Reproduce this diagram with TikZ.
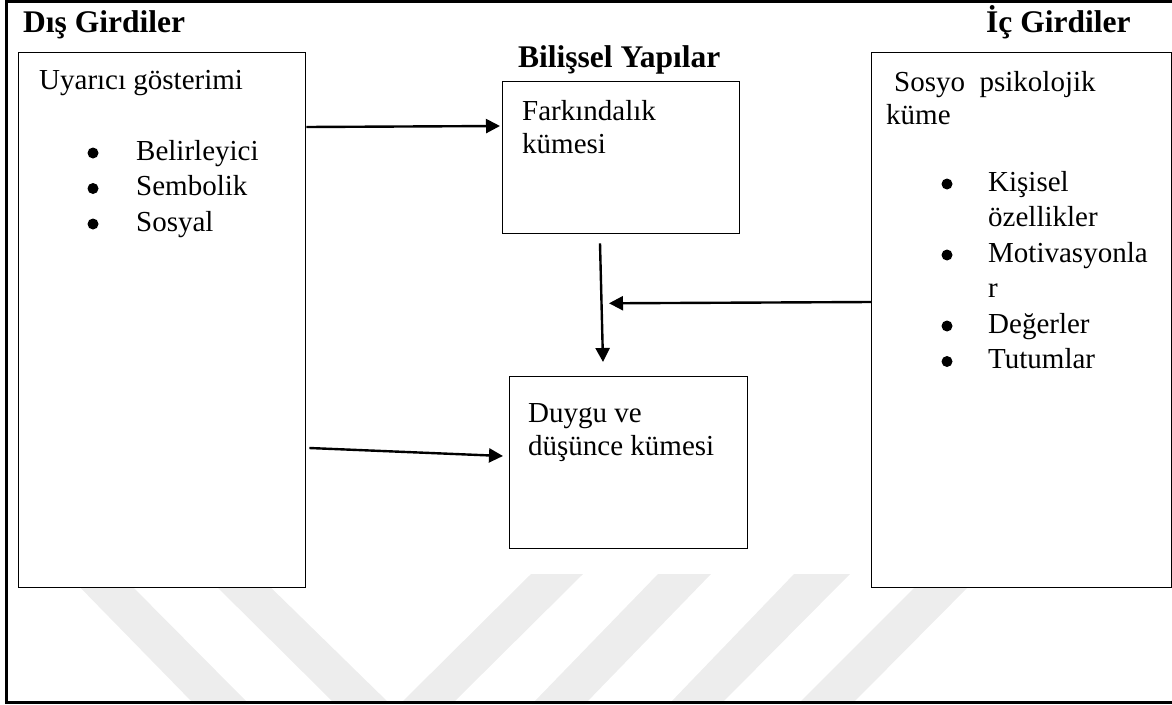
\documentclass[tikz,border=0pt]{standalone}
\usepackage{fontspec}
\setmainfont{Liberation Serif}
\usetikzlibrary{arrows.meta,calc}
\definecolor{wmgray}{RGB}{237,237,237}
\tikzset{
  box/.style={draw=black, line width=1.3pt, fill=white, rectangle, inner sep=0pt, anchor=north west},
  txt/.style={anchor=base west, inner sep=0pt, font=\fontsize{29}{35}\selectfont},
  head/.style={anchor=base west, inner sep=0pt, font=\fontsize{31.5}{36}\selectfont\bfseries},
  bul/.style={circle, fill=black, inner sep=0pt, minimum size=11pt},
  arr/.style={line width=2.4pt, -{Triangle[length=14pt,width=14pt]}},
  band/.style={fill=wmgray, draw=none},
  frame/.style={draw=black, line width=3pt},
}
\begin{document}
\begin{tikzpicture}[x=1pt,y=-1pt]
\useasboundingbox (0,0) rectangle (1172,704);

% faint background bands
\fill[band] (67,574) -- (120,574) -- (249,704) -- (194,704) -- cycle;
\fill[band] (204,574) -- (257,574) -- (390,704) -- (335,704) -- cycle;
\fill[band] (531,574) -- (583,574) -- (452,704) -- (400,704) -- cycle;
\fill[band] (658,574) -- (711,574) -- (585,704) -- (532,704) -- cycle;
\fill[band] (794,574) -- (850,574) -- (721,704) -- (669,704) -- cycle;
\fill[band] (928,574) -- (981,574) -- (852,704) -- (798,704) -- cycle;

% outer frame
\draw[frame] (6.5,1.5) rectangle (1190,702.5);

% headings
\node[head] (hdis) at (23,32) {Dış Girdiler};
\node[head] (hic) at (986,32) {İç Girdiler};
\node[head] (hbil) at (518,67) {Bilişsel Yapılar};

% boxes
\node[box, minimum width=287pt, minimum height=535pt] (dis) at (18,52) {};
\node[box, minimum width=300pt, minimum height=535pt] (ic) at (871,52) {};
\node[box, minimum width=237pt, minimum height=152pt] (fark) at (502,81) {};
\node[box, minimum width=238pt, minimum height=172pt] (duygu) at (509,376) {};

% left box contents
\node[txt] (t1) at (39,89) {Uyarıcı gösterimi};
\node[bul] (b1) at (93,153) {};
\node[txt] (t2) at (136,160) {Belirleyici};
\node[bul] (b2) at (93,188.5) {};
\node[txt] (t3) at (136,195.5) {Sembolik};
\node[bul] (b3) at (93,224) {};
\node[txt] (t4) at (136,231) {Sosyal};

% middle boxes contents
\node[txt] (f1) at (522,120) {Farkındalık};
\node[txt] (f2) at (522,153) {kümesi};
\node[txt] (d1) at (528,422) {Duygu ve};
\node[txt] (d2) at (528,455) {düşünce kümesi};

% right box contents
\node[txt] (s1) at (894,91) {Sosyo\ \ psikolojik};
\node[txt] (s2) at (886,124) {küme};
\node[bul] (c1) at (947,184) {};
\node[txt] (r1) at (988,191) {Kişisel};
\node[txt] (r2) at (988,226.5) {özellikler};
\node[bul] (c2) at (947,255) {};
\node[txt] (r3) at (988,262) {Motivasyonla};
\node[txt] (r4) at (988,297.5) {r};
\node[bul] (c3) at (947,326) {};
\node[txt] (r5) at (988,333) {Değerler};
\node[bul] (c4) at (947,361.5) {};
\node[txt] (r6) at (988,368.5) {Tutumlar};

% connectors
\draw[arr] ($(dis.north east)+(0,75)$) -- ($(fark.north west)+(-2,45)$);
\draw[arr] ($(fark.south west)+(98,9)$) -- ($(duygu.north west)+(94,-14)$);
\draw[arr] ($(ic.north west)+(0,250)$) -- ($(fark.south west)+(107,69)$);
\draw[arr] ($(dis.north east)+(3,396)$) -- ($(duygu.north west)+(-6,80)$);
\end{tikzpicture}
\end{document}
